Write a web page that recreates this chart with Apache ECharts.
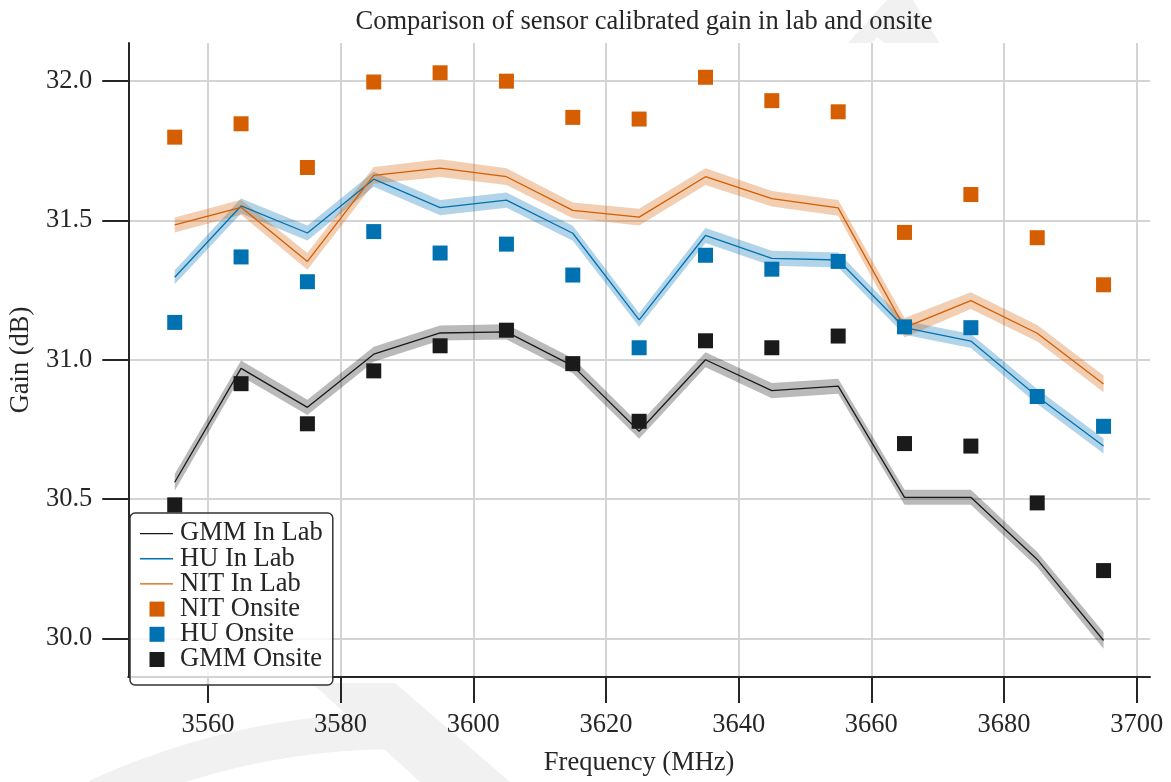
<!DOCTYPE html>
<html>
<head>
<meta charset="utf-8">
<script src="https://cdn.jsdelivr.net/npm/echarts@6/dist/echarts.min.js"></script>
<style>
  html, body { margin: 0; padding: 0; background: #ffffff; }
  #chart { width: 1171px; height: 782px; }
</style>
</head>
<body>
<div id="chart"></div>
<script>
// Measurement frequencies (MHz)
const freqs = [3555, 3565, 3575, 3585, 3595, 3605, 3615, 3625, 3635, 3645, 3655, 3665, 3675, 3685, 3695];

// Axis tick values
const xTicks = [3560, 3580, 3600, 3620, 3640, 3660, 3680, 3700];
const yTicks = [30.0, 30.5, 31.0, 31.5, 32.0];

// Calibrated gain measured in the lab (dB) with its spread (half-width of the shaded band)
const gmmLab       = [30.56, 30.969, 30.829, 31.02, 31.096, 31.1, 30.978, 30.743, 31.0, 30.889, 30.905, 30.506, 30.506, 30.283, 29.992];
const gmmLabSpread = [0.030, 0.028, 0.027, 0.027, 0.027, 0.027, 0.027, 0.027, 0.027, 0.027, 0.027, 0.027, 0.027, 0.027, 0.030];
const huLab        = [31.296, 31.552, 31.455, 31.648, 31.546, 31.573, 31.454, 31.143, 31.446, 31.364, 31.358, 31.115, 31.067, 30.868, 30.69];
const huLabSpread  = [0.025, 0.027, 0.027, 0.027, 0.027, 0.027, 0.027, 0.025, 0.027, 0.027, 0.027, 0.025, 0.025, 0.027, 0.027];
const nitLab       = [31.484, 31.547, 31.353, 31.662, 31.688, 31.657, 31.536, 31.512, 31.657, 31.578, 31.545, 31.115, 31.212, 31.095, 30.913];
const nitLabSpread = [0.027, 0.027, 0.030, 0.030, 0.032, 0.030, 0.028, 0.030, 0.030, 0.028, 0.028, 0.035, 0.030, 0.030, 0.030];

// Calibrated gain measured onsite (dB)
const nitOnsite = [31.799, 31.847, 31.69, 31.997, 32.03, 32.0, 31.87, 31.864, 32.014, 31.93, 31.89, 31.457, 31.593, 31.438, 31.269];
const huOnsite  = [31.134, 31.369, 31.28, 31.46, 31.383, 31.415, 31.304, 31.043, 31.375, 31.325, 31.353, 31.118, 31.115, 30.868, 30.761];
const gmmOnsite = [30.479, 30.914, 30.77, 30.96, 31.05, 31.106, 30.986, 30.779, 31.068, 31.043, 31.085, 30.699, 30.69, 30.486, 30.243];

const ORANGE = '#D55E00';
const BLUE = '#0072B2';
const BLACK = '#1a1a1a';
const INK = '#262626';
const MARK = '#f1f1f1';
const FONT = '"Liberation Serif", "DejaVu Serif", serif';
const FS = 26.5;

const pairs = (vals) => freqs.map((f, i) => [f, vals[i]]);

// Shaded spread band drawn as one polygon: upper edge forward, lower edge back
function bandSeries(name, vals, spread, fill) {
  return {
    name: name + ' spread', type: 'custom', silent: true, clip: true, z: 2,
    data: freqs.map((f, i) => [f, vals[i] - spread[i], vals[i] + spread[i]]),
    encode: { x: 0, y: [1, 2] },
    renderItem: (params, api) => {
      if (params.dataIndex !== 0) return null;
      const upper = [];
      const lower = [];
      for (let i = 0; i < freqs.length; i++) {
        upper.push(api.coord([freqs[i], vals[i] + spread[i]]));
        lower.push(api.coord([freqs[i], vals[i] - spread[i]]));
      }
      return {
        type: 'polygon',
        shape: { points: upper.concat(lower.reverse()) },
        style: { fill: fill }
      };
    }
  };
}

function labLine(name, vals, color) {
  return {
    name: name, type: 'line', symbol: 'none', showSymbol: false,
    lineStyle: { color: color, width: 1.3 }, itemStyle: { color: color },
    data: pairs(vals), z: 3
  };
}

function onsiteSeries(name, vals, color) {
  return {
    name: name, type: 'scatter', symbol: 'rect', symbolSize: 15,
    itemStyle: { color: color, opacity: 1 },
    data: pairs(vals), z: 4
  };
}

const lineIcon = 'path://M0,0M33,15M0,6.9h33v1.3h-33z';
const squareIcon = 'path://M0,0M33,15M9.5,0h15v15h-15z';

const option = {
  animation: false,
  backgroundColor: '#ffffff',
  textStyle: { fontFamily: FONT, color: INK },
  // faint background mark, hidden behind the white plot area
  graphic: [
    {
      type: 'polygon', z: -10, silent: true,
      shape: { points: [[847, 44], [887, 0], [913, 0], [940, 44], [886, 44], [877, 37], [871, 44]] },
      style: { fill: MARK }
    },
    {
      type: 'arc', z: -10, silent: true,
      shape: { cx: 400, cy: 1460, r: 729, startAngle: -2.0, endAngle: -1.56 },
      style: { stroke: MARK, lineWidth: 36, fill: null }
    },
    {
      type: 'polygon', z: -10, silent: true,
      shape: { points: [[312, 683], [395, 683], [510, 782], [420, 782]] },
      style: { fill: MARK }
    }
  ],
  title: {
    text: 'Comparison of sensor calibrated gain in lab and onsite',
    left: 639, top: 4, textAlign: 'center',
    textStyle: { fontFamily: FONT, fontSize: FS, fontWeight: 'normal', color: INK }
  },
  grid: {
    left: 128, right: 21, top: 43, bottom: 100,
    show: true, backgroundColor: '#ffffff', borderWidth: 0
  },
  legend: {
    orient: 'vertical', left: 130, top: 513,
    padding: [7, 10, 12, 10],
    itemWidth: 33, itemHeight: 15, itemGap: -1.8,
    backgroundColor: 'rgba(255,255,255,0.8)',
    borderColor: '#333333', borderWidth: 1.5, borderRadius: 5,
    textStyle: { fontFamily: FONT, fontSize: FS, color: INK, padding: [0, 0, 0, 2] },
    data: [
      { name: 'GMM In Lab', icon: lineIcon },
      { name: 'HU In Lab', icon: lineIcon },
      { name: 'NIT In Lab', icon: lineIcon },
      { name: 'NIT Onsite', icon: squareIcon },
      { name: 'HU Onsite', icon: squareIcon },
      { name: 'GMM Onsite', icon: squareIcon }
    ]
  },
  xAxis: {
    type: 'value', min: 3548, max: 3702,
    name: 'Frequency (MHz)', nameLocation: 'middle', nameGap: 73,
    nameTextStyle: { fontFamily: FONT, fontSize: FS, color: INK },
    axisLine: { show: true, onZero: false, lineStyle: { color: INK, width: 2 } },
    axisTick: { show: true, length: 26, customValues: xTicks, lineStyle: { color: INK, width: 2 } },
    axisLabel: {
      customValues: xTicks, fontFamily: FONT, fontSize: FS, color: INK, margin: 35,
      formatter: (v) => String(v)
    },
    splitLine: { show: true, lineStyle: { color: '#d4d4d4', width: 2 } }
  },
  yAxis: {
    type: 'value', min: 29.861, max: 32.137,
    name: 'Gain (dB)', nameLocation: 'middle', nameGap: 89,
    nameTextStyle: { fontFamily: FONT, fontSize: FS, color: INK },
    axisLine: { show: true, onZero: false, lineStyle: { color: INK, width: 2 } },
    axisTick: { show: true, length: 26, customValues: yTicks, lineStyle: { color: INK, width: 2 } },
    axisLabel: {
      customValues: yTicks, fontFamily: FONT, fontSize: FS, color: INK, margin: 36,
      formatter: (v) => Number(v).toFixed(1)
    },
    splitLine: { show: true, lineStyle: { color: '#d4d4d4', width: 2 } }
  },
  series: [
    bandSeries('GMM In Lab', gmmLab, gmmLabSpread, 'rgba(0,0,0,0.27)'),
    labLine('GMM In Lab', gmmLab, BLACK),
    bandSeries('HU In Lab', huLab, huLabSpread, 'rgba(0,114,178,0.3)'),
    labLine('HU In Lab', huLab, BLUE),
    bandSeries('NIT In Lab', nitLab, nitLabSpread, 'rgba(213,94,0,0.3)'),
    labLine('NIT In Lab', nitLab, ORANGE),
    onsiteSeries('NIT Onsite', nitOnsite, ORANGE),
    onsiteSeries('HU Onsite', huOnsite, BLUE),
    onsiteSeries('GMM Onsite', gmmOnsite, BLACK)
  ]
};

const chart = echarts.init(document.getElementById('chart'), null, { renderer: 'canvas' });
chart.setOption(option);
</script>
</body>
</html>
